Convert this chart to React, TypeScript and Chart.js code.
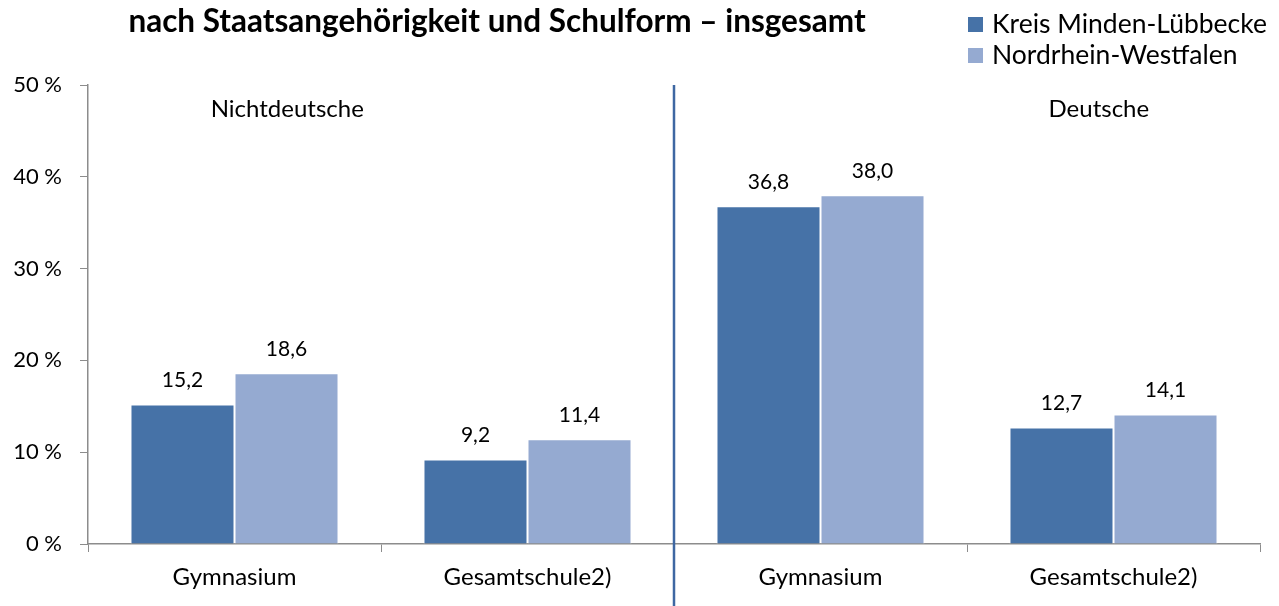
import React, { useEffect, useRef } from "react";
import { Chart, registerables } from "chart.js";

Chart.register(...registerables);

const categories = ["Gymnasium", "Gesamtschule2)", "Gymnasium", "Gesamtschule2)"];
const seriesNames = ["Kreis Minden-Lübbecke", "Nordrhein-Westfalen"];
const kreisValues = [15.2, 9.2, 36.8, 12.7];
const nrwValues = [18.6, 11.4, 38.0, 14.1];
const yTicks = [0, 10, 20, 30, 40, 50];
const groupLabels = ["Nichtdeutsche", "Deutsche"];
const titleText = "nach Staatsangehörigkeit und Schulform – insgesamt";

const DARK = "#4672A7";
const LIGHT = "#95AAD1";
const FONT = "Lato, 'Open Sans', sans-serif";

const overlayPlugin = {
  id: "overlay",
  afterDraw(chart: any) {
    const ctx = chart.ctx;
    const x = chart.scales.x;
    const area = chart.chartArea;
    ctx.save();

    // title
    ctx.fillStyle = "#000";
    ctx.font = `bold 31.5px ${FONT}`;
    ctx.textAlign = "center";
    ctx.textBaseline = "middle";
    ctx.fillText(titleText, 497, 22);

    // legend
    const colors = [DARK, LIGHT];
    ctx.font = `26.5px ${FONT}`;
    ctx.textAlign = "left";
    seriesNames.forEach((name, i) => {
      const cy = 24 + i * 31;
      ctx.fillStyle = colors[i];
      ctx.fillRect(968, cy - 7, 15, 15);
      ctx.fillStyle = "#000";
      ctx.fillText(name, 992, cy);
    });

    // divider
    const dx = (x.getPixelForValue(1) + x.getPixelForValue(2)) / 2;
    ctx.strokeStyle = "#3E67A2";
    ctx.lineWidth = 2.5;
    ctx.beginPath();
    ctx.moveTo(dx, area.top);
    ctx.lineTo(dx, chart.height);
    ctx.stroke();

    // group labels
    ctx.font = `24px ${FONT}`;
    ctx.textAlign = "center";
    ctx.fillStyle = "#000";
    ctx.fillText(groupLabels[0], x.getPixelForValue(0.18), area.top + 24);
    ctx.fillText(groupLabels[1], x.getPixelForValue(2.95), area.top + 24);

    // data labels
    ctx.font = `21px ${FONT}`;
    chart.data.datasets.forEach((ds: any, di: number) => {
      const meta = chart.getDatasetMeta(di);
      meta.data.forEach((bar: any, i: number) => {
        const v = ds.data[i];
        ctx.fillText(v.toFixed(1).replace(".", ","), bar.x, bar.y - 24);
      });
    });
    ctx.restore();
  },
};

export default function App() {
  const ref = useRef<HTMLCanvasElement>(null);
  useEffect(() => {
    document.body.style.margin = "0";
    const chart = new Chart(ref.current!, {
      type: "bar",
      data: {
        labels: categories,
        datasets: [
          { label: seriesNames[0], data: kreisValues, backgroundColor: DARK, borderColor: "#fff", borderWidth: 1, borderSkipped: "bottom" },
          { label: seriesNames[1], data: nrwValues, backgroundColor: LIGHT, borderColor: "#fff", borderWidth: 1, borderSkipped: "bottom" },
        ],
      },
      options: {
        animation: false,
        responsive: false,
        maintainAspectRatio: false,
        layout: { padding: { left: 0, top: 85, right: 19, bottom: 0 } },
        datasets: { bar: { categoryPercentage: 0.71, barPercentage: 1 } },
        plugins: { legend: { display: false }, tooltip: { enabled: false }, title: { display: false } },
        scales: {
          x: {
            offset: true,
            grid: { display: true, drawOnChartArea: false, tickLength: 8, color: "#8C8C8C", offset: true },
            border: { display: true, color: "#8C8C8C", width: 1.5 },
            ticks: { color: "#000", font: { family: FONT, size: 24 }, padding: 11, autoSkip: false, maxRotation: 0 },
            afterFit: (s: any) => { s.height = 62; },
          },
          y: {
            min: 0,
            max: 50,
            afterBuildTicks: (s: any) => { s.ticks = yTicks.map((v) => ({ value: v })); },
            grid: { display: true, drawOnChartArea: false, tickLength: 8, color: "#8C8C8C" },
            border: { display: true, color: "#8C8C8C", width: 1.5 },
            ticks: { color: "#000", font: { family: FONT, size: 22 }, padding: 18, callback: (v: any) => `${v} %` },
            afterFit: (s: any) => { s.width = 88; },
          },
        },
      },
      plugins: [overlayPlugin],
    });
    return () => chart.destroy();
  }, []);
  return (
    <div style={{ position: "absolute", left: 0, top: 0, width: 1279, height: 606 }}>
      <canvas ref={ref} width={1279} height={606} style={{ width: 1279, height: 606 }} />
    </div>
  );
}
